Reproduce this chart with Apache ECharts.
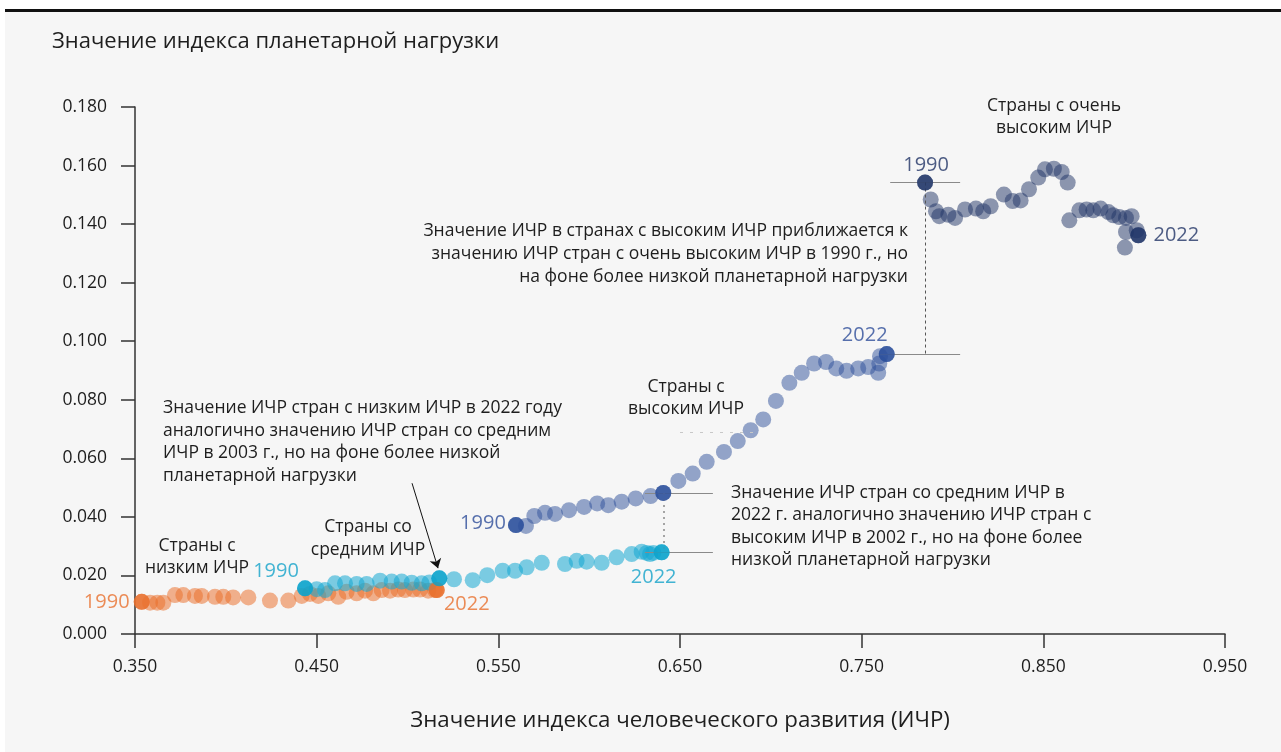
<!DOCTYPE html>
<html>
<head>
<meta charset="utf-8">
<script src="https://cdn.jsdelivr.net/npm/echarts@6/dist/echarts.min.js"></script>
<style>
  html, body { margin: 0; padding: 0; background: #fff; width: 1281px; height: 752px; overflow: hidden; }
  #chart { position: absolute; left: 0; top: 0; width: 1281px; height: 752px; z-index: 1; }
  #topwhite { position: absolute; left: 0; top: 0; width: 1281px; height: 9px; background: #fff; z-index: 5; }
  #leftwhite { position: absolute; left: 0; top: 0; width: 5px; height: 752px; background: #fff; z-index: 5; }
  #rule { position: absolute; left: 5px; top: 9px; width: 1276px; height: 3px; background: #111; z-index: 6; }
</style>
</head>
<body>
<div id="chart"></div>
<div id="topwhite"></div>
<div id="leftwhite"></div>
<div id="rule"></div>
<script>
// страны с низким ИЧР, 1990-2022
const lowHdi = [0.3537, 0.3583, 0.3623, 0.3656, 0.3720, 0.3766, 0.3830, 0.3867, 0.3940, 0.3986, 0.4040,
  0.4124, 0.4243, 0.4344, 0.4418, 0.4463, 0.4509, 0.4564, 0.4619, 0.4665, 0.4720, 0.4766, 0.4812,
  0.4858, 0.4904, 0.4949, 0.4986, 0.5032, 0.5069, 0.5114, 0.5151, 0.5161];
const lowLoad = [0.0110, 0.0107, 0.0107, 0.0107, 0.0133, 0.0133, 0.0130, 0.0130, 0.0127, 0.0127, 0.0125,
  0.0125, 0.0114, 0.0114, 0.0130, 0.0137, 0.0130, 0.0139, 0.0127, 0.0144, 0.0139, 0.0148, 0.0139,
  0.0150, 0.0148, 0.0152, 0.0150, 0.0152, 0.0152, 0.0148, 0.0150, 0.0150];
// страны со средним ИЧР
const medHdi = [0.4436, 0.4500, 0.4546, 0.4601, 0.4656, 0.4720, 0.4775, 0.4849, 0.4913, 0.4968, 0.5023,
  0.5078, 0.5120, 0.5175, 0.5256, 0.5359, 0.5439, 0.5524, 0.5592, 0.5656, 0.5739, 0.5867, 0.5931,
  0.5986, 0.6069, 0.6151, 0.6234, 0.6289, 0.6317, 0.6335, 0.6353, 0.6399];
const medLoad = [0.0156, 0.0153, 0.0150, 0.0173, 0.0173, 0.0171, 0.0171, 0.0182, 0.0179, 0.0179, 0.0175,
  0.0173, 0.0176, 0.0190, 0.0187, 0.0184, 0.0201, 0.0216, 0.0216, 0.0228, 0.0243, 0.0239, 0.0250,
  0.0247, 0.0243, 0.0262, 0.0273, 0.0281, 0.0277, 0.0273, 0.0277, 0.0279];
const med2003 = 13;
// страны с высоким ИЧР
const highHdi = [0.5597, 0.5652, 0.5698, 0.5757, 0.5812, 0.5889, 0.5972, 0.6044, 0.6105, 0.6179, 0.6256,
  0.6338, 0.6408, 0.6491, 0.6570, 0.6647, 0.6742, 0.6818, 0.6889, 0.6958, 0.7028, 0.7102, 0.7170,
  0.7238, 0.7304, 0.7360, 0.7417, 0.7481, 0.7536, 0.7591, 0.7597, 0.7601, 0.7638];
const highLoad = [0.0372, 0.0369, 0.0403, 0.0414, 0.0410, 0.0423, 0.0434, 0.0446, 0.0440, 0.0452, 0.0463,
  0.0471, 0.0482, 0.0523, 0.0548, 0.0588, 0.0622, 0.0659, 0.0696, 0.0733, 0.0796, 0.0858, 0.0892,
  0.0924, 0.0929, 0.0907, 0.0899, 0.0907, 0.0912, 0.0892, 0.0924, 0.0949, 0.0956];
const high2002 = 12;
// страны с очень высоким ИЧР
const vhHdi = [0.7849, 0.7880, 0.7909, 0.7927, 0.7977, 0.8014, 0.8069, 0.8129, 0.8169, 0.8210, 0.8283,
  0.8331, 0.8375, 0.8421, 0.8472, 0.8509, 0.8558, 0.8601, 0.8634, 0.8643, 0.8698, 0.8738, 0.8775,
  0.8815, 0.8858, 0.8885, 0.8918, 0.8955, 0.8986, 0.8955, 0.9014, 0.8949, 0.9023];
const vhLoad = [0.1542, 0.1484, 0.1444, 0.1427, 0.1432, 0.1421, 0.1450, 0.1453, 0.1444, 0.1461, 0.1501,
  0.1479, 0.1481, 0.1519, 0.1559, 0.1587, 0.1589, 0.1578, 0.1542, 0.1413, 0.1447, 0.1450, 0.1447,
  0.1453, 0.1441, 0.1430, 0.1424, 0.1421, 0.1427, 0.1373, 0.1379, 0.1320, 0.1362];

const FONT = 'Open Sans';
const pts = (xs, ys) => xs.map((x, i) => [x, ys[i]]);
const last = a => a.length - 1;

function light(name, xs, ys, color) {
  return { name, type: 'scatter', symbolSize: 16, data: pts(xs, ys),
    itemStyle: { color, opacity: 1 }, silent: true };
}
// точка-ключ с подписью года
function key(xs, ys, i, text, color, offset) {
  return { value: [xs[i], ys[i]],
    label: text ? { show: true, formatter: text, position: 'inside', offset, color,
      fontSize: 20, fontFamily: FONT } : { show: false } };
}
function keys(name, color, items) {
  return { name, type: 'scatter', symbolSize: 16, data: items, itemStyle: { color }, silent: true, z: 5 };
}
function seg(a, b, style) {
  return [{ coord: a, lineStyle: style }, { coord: b }];
}
// текстовая сноска, y - центр первой строки
function note(text, x, y, align, size, lh) {
  return { type: 'text', x, y: y - lh / 2, z: 10,
    style: { text, fontSize: size, lineHeight: lh, fill: '#1e1e1e', align, verticalAlign: 'top', fontFamily: FONT } };
}

const gray = { color: '#8a8a8a', width: 1.2, type: 'solid' };
const dotted = { color: '#a5a5a5', width: 2, type: [2, 4] };

const chart = echarts.init(document.getElementById('chart'));
chart.setOption({
  animation: false,
  backgroundColor: '#f6f6f6',
  textStyle: { fontFamily: FONT },
  grid: { left: 135, right: 56, top: 107, bottom: 118 },
  xAxis: {
    type: 'value', min: 0.35, max: 0.95, interval: 0.1,
    name: 'Значение индекса человеческого развития (ИЧР)', nameLocation: 'middle', nameGap: 76,
    nameTextStyle: { fontSize: 22.3, color: '#1e1e1e', fontFamily: FONT },
    axisLine: { show: true, lineStyle: { color: '#333', width: 1.5 } },
    axisTick: { show: true, length: 14, lineStyle: { color: '#333', width: 1.5 } },
    axisLabel: { formatter: v => v.toFixed(3), fontSize: 17.5, color: '#1e1e1e', margin: 24, fontFamily: FONT },
    splitLine: { show: false }
  },
  yAxis: {
    type: 'value', min: 0, max: 0.18, interval: 0.02,
    axisLine: { show: true, lineStyle: { color: '#333', width: 1.5 } },
    axisTick: { show: true, length: 14, lineStyle: { color: '#333', width: 1.5 } },
    axisLabel: { formatter: v => v.toFixed(3), fontSize: 17.5, color: '#1e1e1e', margin: 28, fontFamily: FONT },
    splitLine: { show: false }
  },
  graphic: [
    note('Значение индекса планетарной нагрузки', 52, 42, 'left', 22, 26),
    note('Страны с\nнизким ИЧР', 197, 546, 'center', 17.5, 22.5),
    note('Страны со\nсредним ИЧР', 368, 527, 'center', 17.5, 23),
    note('Значение ИЧР стран с низким ИЧР в 2022 году\nаналогично значению ИЧР стран со средним\nИЧР в 2003 г., но на фоне более низкой\nпланетарной нагрузки', 163, 408, 'left', 17.5, 22.7),
    note('Страны с\nвысоким ИЧР', 686, 387, 'center', 17.5, 22.5),
    note('Значение ИЧР стран со средним ИЧР в\n2022 г. аналогично значению ИЧР стран с\nвысоким ИЧР в 2002 г., но на фоне более\nнизкой планетарной нагрузки', 731, 493, 'left', 17.5, 22.5),
    note('Значение ИЧР в странах с высоким ИЧР приближается к\nзначению ИЧР стран с очень высоким ИЧР в 1990 г., но\nна фоне более низкой планетарной нагрузки', 908, 231, 'right', 17.5, 23),
    note('Страны с очень\nвысоким ИЧР', 1054, 106, 'center', 17.5, 22.5)
  ],
  series: [
    light('Низкий ИЧР', lowHdi, lowLoad, 'rgba(234,110,40,0.52)'),
    light('Средний ИЧР', medHdi, medLoad, 'rgba(20,168,210,0.55)'),
    Object.assign(light('Высокий ИЧР', highHdi, highLoad, 'rgba(45,79,154,0.5)'), {
      markLine: {
        silent: true, symbol: 'none', label: { show: false }, animation: false,
        data: [
          seg([0.6307, highLoad[high2002]], [0.6681, highLoad[high2002]], gray),
          seg([0.6307, medLoad[last(medLoad)]], [0.6681, medLoad[last(medLoad)]], gray),
          seg([highHdi[high2002], highLoad[high2002]], [highHdi[high2002], medLoad[last(medLoad)]], dotted),
          seg([0.7601, highLoad[last(highLoad)]], [0.8042, highLoad[last(highLoad)]], gray),
          seg([0.6500, 0.0688], [0.6920, 0.0688], { color: '#c8c8c8', width: 1, type: [3, 7] })
        ]
      }
    }),
    Object.assign(light('Очень высокий ИЧР', vhHdi, vhLoad, 'rgba(31,51,102,0.5)'), {
      markLine: {
        silent: true, symbol: 'none', label: { show: false }, animation: false,
        data: [
          seg([0.7657, vhLoad[0]], [0.8042, vhLoad[0]], gray),
          seg([vhHdi[0], vhLoad[0]], [vhHdi[0], highLoad[last(highLoad)]], { color: '#555', width: 1, type: [3, 3] })
        ]
      }
    }),
    Object.assign(keys('Низкий ИЧР: ключевые', '#e8702e', [
      key(lowHdi, lowLoad, 0, '1990', '#e8702e', [-35, 1]),
      key(lowHdi, lowLoad, last(lowHdi), '2022', '#e8702e', [30, 14])
    ]), {
      markLine: {
        silent: true, symbol: ['none', 'arrow'], symbolSize: 9, label: { show: false }, animation: false,
        data: [seg([0.5025, 0.0515], [0.5168, 0.0225], { color: '#111', width: 1, type: 'solid' })]
      }
    }),
    keys('Средний ИЧР: ключевые', '#0aa2cc', [
      key(medHdi, medLoad, 0, '1990', '#14a3c9', [-29, -17]),
      key(medHdi, medLoad, med2003, null),
      key(medHdi, medLoad, last(medHdi), '2022', '#14a3c9', [-8, 25])
    ]),
    keys('Высокий ИЧР: ключевые', '#2b4f9c', [
      key(highHdi, highLoad, 0, '1990', '#2e4e9a', [-33, -2]),
      key(highHdi, highLoad, high2002, null),
      key(highHdi, highLoad, last(highHdi), '2022', '#2e4e9a', [-22, -19])
    ]),
    keys('Очень высокий ИЧР: ключевые', '#1f3468', [
      key(vhHdi, vhLoad, 0, '1990', '#223466', [1, -17]),
      key(vhHdi, vhLoad, last(vhHdi), '2022', '#223466', [38, 0])
    ])
  ]
});
</script>
</body>
</html>
